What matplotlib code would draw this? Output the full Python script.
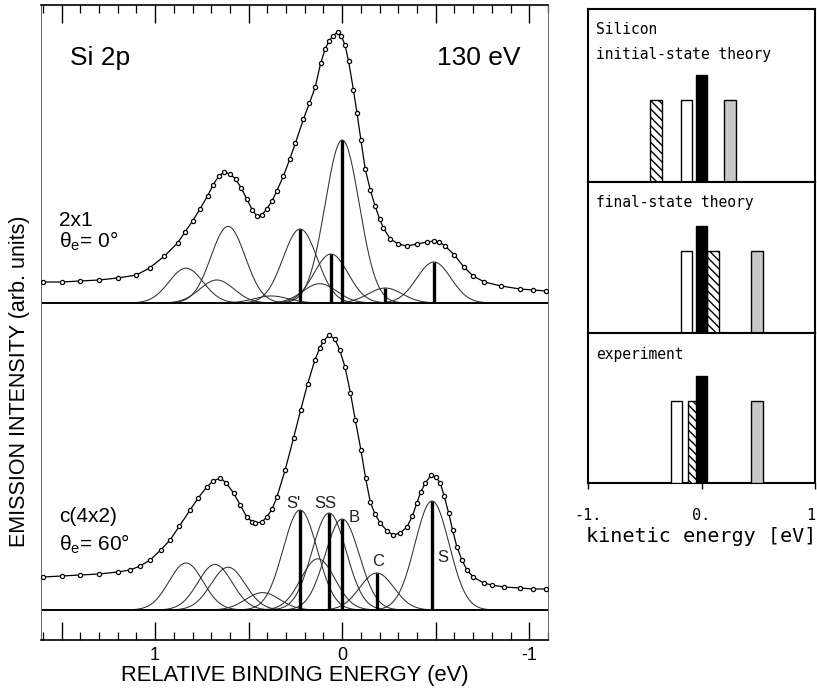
import numpy as np
import matplotlib
matplotlib.use("Agg")
import matplotlib.pyplot as plt
from matplotlib.ticker import MultipleLocator, FuncFormatter

plt.rcParams['font.family'] = ['Liberation Sans', 'DejaVu Sans']
plt.rcParams['mathtext.fontset'] = 'custom'
plt.rcParams['mathtext.rm'] = 'Liberation Sans'
plt.rcParams['mathtext.it'] = 'Liberation Sans:italic'
plt.rcParams['hatch.linewidth'] = 1.0

# ---------------- data: left panel (Si 2p spectra) ----------------
# relative binding energy (eV) and intensity above each spectrum's baseline (arb.)
top_x = [1.60, 1.50, 1.40, 1.30, 1.20, 1.10, 1.03, 0.95, 0.88, 0.84, 0.80, 0.76, 0.72,
         0.69, 0.66, 0.63, 0.60, 0.57, 0.54, 0.51, 0.48, 0.456, 0.43, 0.403, 0.375,
         0.35, 0.314, 0.28, 0.25, 0.207, 0.175, 0.144, 0.115, 0.091, 0.07, 0.05, 0.025,
         0.005, -0.015, -0.034, -0.06, -0.079, -0.10, -0.123, -0.15, -0.176, -0.20,
         -0.22, -0.257, -0.30, -0.346, -0.40, -0.453, -0.49, -0.52, -0.55, -0.60,
         -0.65, -0.70, -0.76, -0.85, -0.95, -1.02, -1.09]
top_y = [21, 21, 22, 23, 25, 28, 35, 47, 60, 71, 82, 94, 107,
         118, 127, 131, 129, 124, 115, 104, 93, 87, 88, 94, 102,
         112, 127, 144, 160, 184, 200, 216, 240, 254, 262, 267, 271,
         267, 258, 242, 213, 190, 163, 134, 113, 97, 84,
         75, 64, 59, 57, 59, 61, 62, 61, 57, 48,
         36, 27, 21, 17, 14, 13, 12]

bot_x = [1.60, 1.50, 1.40, 1.30, 1.20, 1.134, 1.08, 1.027, 0.97, 0.92, 0.87, 0.813,
         0.77, 0.724, 0.69, 0.652, 0.62, 0.581, 0.545, 0.51, 0.48, 0.465, 0.43, 0.403,
         0.375, 0.349, 0.305, 0.26, 0.222, 0.185, 0.146, 0.12, 0.10, 0.07, 0.04, 0.013,
         -0.015, -0.044, -0.07, -0.10, -0.125, -0.15, -0.175, -0.203, -0.24, -0.273,
         -0.31, -0.346, -0.375, -0.399, -0.42, -0.444, -0.476, -0.50, -0.524, -0.545,
         -0.569, -0.59, -0.613, -0.64, -0.667, -0.70, -0.756, -0.80, -0.863, -0.952,
         -1.02, -1.09]
bot_y = [33, 34, 35, 36, 38, 40, 44, 50, 60, 70, 84, 100,
         112, 123, 129, 132, 127, 117, 105, 93, 88, 87, 88, 93,
         101, 113, 140, 172, 200, 226, 250, 262, 269, 275, 271, 260,
         243, 217, 190, 160, 132, 108, 96, 87, 79, 75,
         77, 83, 94, 107, 118, 127, 135, 133, 127, 114,
         97, 80, 63, 50, 40, 33, 27, 25, 23, 22,
         21, 21]

# fitted components (2p3/2 position, height); each has a 2p1/2 partner
top_pos = [0.225, 0.06, 0.0, -0.23, -0.49]
top_amp = [74, 49, 163, 15, 41]
bot_pos = [0.225, 0.07, 0.0, -0.185, -0.48]
bot_amp = [100, 97, 91, 37, 109]
bot_names = ["S'", "SS", "B", "C", "S"]
FWHM = 0.215
SO_SPLIT = 0.61
SO_RATIO = 0.47

# ---------------- data: right panel (core-level shifts) ----------------
cats = ["S'", "SS", "B", "S"]
initial_shift = [-0.13, -0.40, 0.0, 0.25]
final_shift = [-0.13, 0.10, 0.0, 0.49]
exp_shift = [-0.22, -0.065, 0.0, 0.49]
bar_height = [0.77, 0.77, 1.0, 0.77]

W, H = 817, 691
def fx(px): return px / W
def fy(py): return 1 - py / H

fig = plt.figure(figsize=(W / 100, H / 100), dpi=100)

# ---------------- left panel ----------------
ax = fig.add_axes([fx(41), fy(640), (548 - 41) / W, (640 - 5) / H])
ax.set_xlim(1.61, -1.10)
ax.set_ylim(0, 635)

SIG = FWHM / 2.3548
xs = np.linspace(1.61, -1.10, 900)
def gauss(x, c, a):
    return a * np.exp(-0.5 * ((x - c) / SIG) ** 2)

def draw_spectrum(base, px, py, pos, amp):
    for c, a in zip(pos, amp):
        ax.plot(xs, base + gauss(xs, c, a), color='#303030', lw=0.75, zorder=2)
        ax.plot(xs, base + gauss(xs, c + SO_SPLIT, a * SO_RATIO), color='#303030', lw=0.75, zorder=2)
        ax.vlines(c, base, base + a, color='black', lw=2.4, zorder=3)
    ax.plot([xs[0], xs[-1]], [base, base], color='black', lw=1.2, zorder=2)
    ax.plot(px, np.array(py) + base, color='black', lw=0.9, zorder=4)
    ax.plot(px, np.array(py) + base, 'o', ms=3.0, mfc='white', mec='black', mew=0.9, zorder=5)

TOP_BASE = 337
BOT_BASE = 30
draw_spectrum(TOP_BASE, top_x, top_y, top_pos, top_amp)
draw_spectrum(BOT_BASE, bot_x, bot_y, bot_pos, bot_amp)

ax.xaxis.set_major_locator(MultipleLocator(0.5))
ax.xaxis.set_minor_locator(MultipleLocator(0.1))
ax.xaxis.set_major_formatter(FuncFormatter(
    lambda v, p: f"{int(round(v))}" if abs(v - round(v)) < 1e-6 else ""))
ax.tick_params(axis='x', which='both', direction='in', top=True, bottom=True)
ax.tick_params(axis='x', which='major', length=13, width=1.0, labelsize=13, pad=5)
ax.tick_params(axis='x', which='minor', length=6, width=0.9)
ax.set_yticks([])
for s in ['left', 'right']:
    ax.spines[s].set_linewidth(0.7)
    ax.spines[s].set_color('#666666')
for s in ['top', 'bottom']:
    ax.spines[s].set_linewidth(1.2)

ax.text(1.457, 640 - 58, "Si 2p", fontsize=19, ha='left', va='center')
ax.text(-0.955, 640 - 58, "130 eV", fontsize=19, ha='right', va='center')
ax.text(1.513, 640 - 220, "2x1", fontsize=15, ha='left', va='center')
ax.text(1.513, 640 - 241, r"$\mathrm{\theta_e}$= 0°", fontsize=15, ha='left', va='center')
ax.text(1.513, 640 - 517, "c(4x2)", fontsize=15, ha='left', va='center')
ax.text(1.513, 640 - 544, r"$\mathrm{\theta_e}$= 60°", fontsize=15, ha='left', va='center')

lab_xy = {"S'": (0.262, 137), "SS": (0.092, 137), "B": (-0.065, 123),
          "C": (-0.19, 78), "S": (-0.535, 82)}
for n in bot_names:
    lx, ly = lab_xy[n]
    ax.text(lx, ly, n, fontsize=12, ha='center', va='center', color='#222222')

fig.text(fx(20), fy(381), "EMISSION INTENSITY (arb. units)", rotation=90,
         ha='center', va='center', fontsize=15.5)
fig.text(fx(294.5), fy(676), "RELATIVE BINDING ENERGY (eV)",
         ha='center', va='center', fontsize=15.8)

# ---------------- right panel ----------------
MONO = 'DejaVu Sans Mono'
PX_PER_UNIT = 107
panels = [(9, 182, initial_shift, ["Silicon", "initial-state theory"]),
          (182, 333, final_shift, ["final-state theory"]),
          (333, 483, exp_shift, ["experiment"])]
styles = {"S'": dict(facecolor='white', hatch=None),
          "SS": dict(facecolor='white', hatch='\\\\\\\\'),
          "B": dict(facecolor='black', hatch=None),
          "S": dict(facecolor='#c8c8c8', hatch=None)}
order = ["S'", "SS", "S", "B"]
axes_r = []
for top_px, bot_px, shifts, labels in panels:
    ar = fig.add_axes([fx(588), fy(bot_px), (815 - 588) / W, (bot_px - top_px) / H])
    ar.set_xlim(-1, 1)
    ar.set_ylim(0, (bot_px - top_px) / PX_PER_UNIT)
    for c in order:
        i = cats.index(c)
        ar.bar(shifts[i], bar_height[i], width=0.1, align='center',
               edgecolor='black', linewidth=1.0, **styles[c], zorder=3)
    ar.set_yticks([])
    ar.set_xticks([])
    for s in ar.spines.values():
        s.set_linewidth(1.5)
    h = bot_px - top_px
    for k, t in enumerate(labels):
        ypx = [20, 46][k] if len(labels) == 2 else 21
        ar.text(0.035, 1 - ypx / h, t, transform=ar.transAxes, ha='left', va='center',
                fontsize=10.5, family=MONO)
    axes_r.append(ar)

ab = axes_r[-1]
ab.set_xticks([-1, 0, 1])
ab.set_xticklabels(['-1.', '0.', '1'], family=MONO, fontsize=11)
ab.get_xticklabels()[-1].set_horizontalalignment('right')
ab.tick_params(axis='x', direction='out', length=4, width=1.0, pad=14)
fig.text(fx(701.5), fy(537), "kinetic energy [eV]", ha='center', va='center',
         family=MONO, fontsize=14.5)

fig.savefig("out.png", dpi=100)
